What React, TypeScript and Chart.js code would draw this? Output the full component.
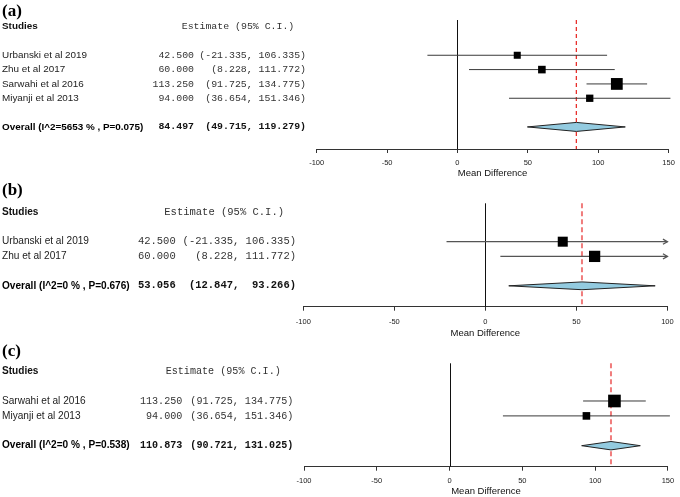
import React, { useEffect, useRef } from "react";
import { Chart, registerables } from "chart.js";

Chart.register(...registerables);

// ---------- Panel (a) data ----------
const studiesA = ["Urbanski et al 2019", "Zhu et al 2017", "Sarwahi et al 2016", "Miyanji et al 2013"];
const estA = [42.5, 60.0, 113.25, 94.0];
const lowA = [-21.335, 8.228, 91.725, 36.654];
const highA = [106.335, 111.772, 134.775, 151.346];
const overallLabelA = "Overall (I^2=5653 % , P=0.075)";
const overallEstA = 84.497;
const overallLowA = 49.715;
const overallHighA = 119.279;
const ticksA = [-100, -50, 0, 50, 100, 150];

// ---------- Panel (b) data ----------
const studiesB = ["Urbanski et al 2019", "Zhu et al 2017"];
const estB = [42.5, 60.0];
const lowB = [-21.335, 8.228];
const highB = [106.335, 111.772];
const overallLabelB = "Overall (I^2=0 % , P=0.676)";
const overallEstB = 53.056;
const overallLowB = 12.847;
const overallHighB = 93.266;
const ticksB = [-100, -50, 0, 50, 100];

// ---------- Panel (c) data ----------
const studiesC = ["Sarwahi et al 2016", "Miyanji et al 2013"];
const estC = [113.25, 94.0];
const lowC = [91.725, 36.654];
const highC = [134.775, 151.346];
const overallLabelC = "Overall (I^2=0 % , P=0.538)";
const overallEstC = 110.873;
const overallLowC = 90.721;
const overallHighC = 131.025;
const ticksC = [-100, -50, 0, 50, 100, 150];

const headerStudies = "Studies";
const headerEstimate = "Estimate (95% C.I.)";
const axisTitle = "Mean Difference";

const SANS = '"Liberation Sans", Arial, Helvetica, sans-serif';
const MONO = '"Liberation Mono", "Courier New", monospace';
const SERIF = '"Liberation Serif", "Times New Roman", serif';

type Layout = {
  top: number;
  height: number;
  label: string;
  padLeft: number;
  padRight: number;
  padTop: number;
  axisH: number;
  tickPad: number;
  yMin: number;
  yMax: number;
  monoSize: number;
  sansSize: number;
  estRight: number;
  ciRight: number;
  headerX: number;
  labelY: number;
  arrows: boolean;
  ciColor: string;
  ciWidth: number;
  dashColor: string;
  dashWidth: number;
  dash: number[];
  diamondHalf: number;
};

type PanelProps = {
  names: string[];
  est: number[];
  low: number[];
  high: number[];
  overallLabel: string;
  overallEst: number;
  overallLow: number;
  overallHigh: number;
  ticks: number[];
  layout: Layout;
};

const layoutA: Layout = {
  top: 0, height: 179, label: "(a)", padLeft: 316.7, padRight: 7.5, padTop: 20, axisH: 30, tickPad: 5.2,
  yMin: -2.46, yMax: 6.54, monoSize: 9.9, sansSize: 9.9, estRight: 194, ciRight: 306, headerX: 181.7, labelY: 11.5,
  arrows: false, ciColor: "#3a3a3a", ciWidth: 1, dashColor: "#e8302c", dashWidth: 1.3, dash: [4, 3], diamondHalf: 4.5,
};
const layoutB: Layout = {
  top: 180, height: 159, label: "(b)", padLeft: 303.3, padRight: 8.3, padTop: 23.3, axisH: 32.3, tickPad: 6.3,
  yMin: -2.61, yMax: 4.42, monoSize: 10.5, sansSize: 10.1, estRight: 175.7, ciRight: 296, headerX: 164.3, labelY: 11,
  arrows: true, ciColor: "#555555", ciWidth: 1.3, dashColor: "#f07c7c", dashWidth: 2, dash: [5, 3], diamondHalf: 3.9,
};
const layoutC: Layout = {
  top: 340, height: 157, label: "(c)", padLeft: 304, padRight: 6, padTop: 23.3, axisH: 30.3, tickPad: 5.8,
  yMin: -2.53, yMax: 4.41, monoSize: 10.1, sansSize: 10.1, estRight: 182.3, ciRight: 293.3, headerX: 165.7, labelY: 12,
  arrows: false, ciColor: "#3a3a3a", ciWidth: 1, dashColor: "#f07c7c", dashWidth: 2, dash: [5, 3], diamondHalf: 4.2,
};

function ForestPanel(props: PanelProps) {
  const ref = useRef<HTMLCanvasElement>(null);

  useEffect(() => {
    const p = props;
    const L = p.layout;
    const n = p.names.length;
    const overallRow = n + 1;

    // inverse-variance weights -> box size
    const se = p.low.map((lo, i) => (p.high[i] - lo) / 3.92);
    const w = se.map((s) => 1 / (s * s));
    const sw = w.reduce((a, b) => a + b, 0);
    const radii = w.map((v) => (4.6 + 0.86 * Math.sqrt((v / sw) * 100)) / Math.SQRT2);

    const ciDatasets = p.est.map((_, i) => ({
      type: "scatter" as const,
      showLine: true,
      data: [
        { x: p.low[i], y: i },
        { x: p.high[i], y: i },
      ],
      borderColor: L.ciColor,
      backgroundColor: L.ciColor,
      borderWidth: L.ciWidth,
      pointRadius: 0,
      order: 1,
      ...(L.arrows ? {} : { clip: false as const }),
    }));

    const boxDataset = {
      type: "scatter" as const,
      data: p.est.map((e, i) => ({ x: e, y: i })),
      pointStyle: "rect" as const,
      pointRadius: radii,
      backgroundColor: "#000000",
      borderColor: "#000000",
      borderWidth: 0,
      order: 0,
      clip: false as const,
    };

    const plugin = {
      id: "forest" + L.label,
      beforeDatasetsDraw(chart: any) {
        const { ctx, chartArea } = chart;
        const xs = chart.scales.x;
        ctx.save();
        const x0 = Math.round(xs.getPixelForValue(0)) + 0.5;
        ctx.strokeStyle = "#111111";
        ctx.lineWidth = 1;
        ctx.beginPath();
        ctx.moveTo(x0, chartArea.top);
        ctx.lineTo(x0, chartArea.bottom);
        ctx.stroke();
        const xd = xs.getPixelForValue(p.overallEst);
        ctx.strokeStyle = L.dashColor;
        ctx.lineWidth = L.dashWidth;
        ctx.setLineDash(L.dash);
        ctx.beginPath();
        ctx.moveTo(xd, chartArea.top);
        ctx.lineTo(xd, chartArea.bottom);
        ctx.stroke();
        ctx.restore();
      },
      afterDatasetsDraw(chart: any) {
        const { ctx } = chart;
        const xs = chart.scales.x;
        const ys = chart.scales.y;
        ctx.save();
        // overall diamond
        const yo = ys.getPixelForValue(overallRow);
        const pl = xs.getPixelForValue(p.overallLow);
        const pe = xs.getPixelForValue(p.overallEst);
        const ph = xs.getPixelForValue(p.overallHigh);
        ctx.beginPath();
        ctx.moveTo(pl, yo);
        ctx.lineTo(pe, yo - L.diamondHalf);
        ctx.lineTo(ph, yo);
        ctx.lineTo(pe, yo + L.diamondHalf);
        ctx.closePath();
        ctx.fillStyle = "#93cbe0";
        ctx.fill();
        ctx.strokeStyle = "#222222";
        ctx.lineWidth = 1;
        ctx.stroke();
        // arrows for truncated CIs
        if (L.arrows) {
          ctx.strokeStyle = L.ciColor;
          ctx.lineWidth = L.ciWidth;
          p.est.forEach((_, i) => {
            const yy = ys.getPixelForValue(i);
            if (p.high[i] > xs.max) {
              const xe = xs.getPixelForValue(xs.max);
              ctx.beginPath();
              ctx.moveTo(xe - 4.5, yy - 2.6);
              ctx.lineTo(xe, yy);
              ctx.lineTo(xe - 4.5, yy + 2.6);
              ctx.stroke();
            }
            if (p.low[i] < xs.min) {
              const xb = xs.getPixelForValue(xs.min);
              ctx.beginPath();
              ctx.moveTo(xb + 4.5, yy - 2.6);
              ctx.lineTo(xb, yy);
              ctx.lineTo(xb + 4.5, yy + 2.6);
              ctx.stroke();
            }
          });
        }
        ctx.restore();
      },
      afterDraw(chart: any) {
        const { ctx } = chart;
        const ys = chart.scales.y;
        ctx.save();
        ctx.textBaseline = "middle";
        // panel label
        ctx.fillStyle = "#000000";
        ctx.textAlign = "left";
        ctx.font = `bold 17px ${SERIF}`;
        ctx.fillText(L.label, 2, L.labelY);
        // header
        const yh = ys.getPixelForValue(-2);
        ctx.font = `bold ${L.sansSize}px ${SANS}`;
        ctx.fillStyle = "#111111";
        ctx.fillText(headerStudies, 2, yh);
        ctx.font = `${L.monoSize}px ${MONO}`;
        ctx.fillStyle = "#333333";
        ctx.fillText(headerEstimate, L.headerX, yh);

        const cw = (() => {
          ctx.font = `${L.monoSize}px ${MONO}`;
          return ctx.measureText("0").width;
        })();

        const drawRow = (row: number, name: string, e: number, lo: number, hi: number, bold: boolean) => {
          const yy = ys.getPixelForValue(row);
          ctx.textAlign = "left";
          ctx.font = `${bold ? "bold " : ""}${L.sansSize}px ${SANS}`;
          ctx.fillStyle = bold ? "#000000" : "#222222";
          ctx.fillText(name, 2, yy);
          ctx.font = `${bold ? "bold " : ""}${L.monoSize}px ${MONO}`;
          ctx.fillStyle = bold ? "#111111" : "#333333";
          ctx.textAlign = "right";
          ctx.fillText(e.toFixed(3), L.estRight, yy);
          ctx.fillText(`(${lo.toFixed(3)},`, L.ciRight - 9 * cw, yy);
          ctx.fillText(`${hi.toFixed(3)})`, L.ciRight, yy);
        };

        p.names.forEach((nm, i) => drawRow(i, nm, p.est[i], p.low[i], p.high[i], false));
        drawRow(overallRow, p.overallLabel, p.overallEst, p.overallLow, p.overallHigh, true);
        ctx.restore();
      },
    };

    const chart = new Chart(ref.current as HTMLCanvasElement, {
      type: "scatter",
      data: { datasets: [boxDataset, ...ciDatasets] as any },
      options: {
        responsive: true,
        maintainAspectRatio: false,
        animation: false,
        events: [],
        layout: { padding: { left: L.padLeft, right: L.padRight, top: L.padTop, bottom: 0 } },
        plugins: { legend: { display: false }, tooltip: { enabled: false }, title: { display: false } },
        scales: {
          x: {
            type: "linear",
            position: "bottom",
            min: p.ticks[0],
            max: p.ticks[p.ticks.length - 1],
            afterBuildTicks: (scale: any) => {
              scale.ticks = p.ticks.map((v) => ({ value: v }));
            },
            afterFit: (scale: any) => {
              scale.height = L.axisH;
            },
            grid: {
              display: true,
              drawOnChartArea: false,
              drawTicks: true,
              tickLength: 4,
              color: "#333333",
              lineWidth: 1,
            },
            border: { display: true, color: "#333333", width: 1 },
            ticks: {
              autoSkip: false,
              maxRotation: 0,
              padding: L.tickPad,
              color: "#222222",
              font: { family: SANS, size: 7.5 },
            },
            title: {
              display: true,
              text: axisTitle,
              color: "#111111",
              font: { family: SANS, size: 9.5 },
              padding: { top: 0, bottom: 0 },
            },
          },
          y: {
            type: "linear",
            display: false,
            min: L.yMin,
            max: L.yMax,
            reverse: true,
          },
        },
      },
      plugins: [plugin],
    } as any);

    return () => chart.destroy();
  }, []);

  const L = props.layout;
  return (
    <div style={{ position: "absolute", left: 0, top: L.top, width: 680, height: L.height }}>
      <canvas ref={ref} />
    </div>
  );
}

export default function App() {
  return (
    <div
      style={{
        position: "fixed",
        left: 0,
        top: 0,
        width: 680,
        height: 497,
        overflow: "hidden",
        background: "#ffffff",
      }}
    >
      <ForestPanel
        names={studiesA}
        est={estA}
        low={lowA}
        high={highA}
        overallLabel={overallLabelA}
        overallEst={overallEstA}
        overallLow={overallLowA}
        overallHigh={overallHighA}
        ticks={ticksA}
        layout={layoutA}
      />
      <ForestPanel
        names={studiesB}
        est={estB}
        low={lowB}
        high={highB}
        overallLabel={overallLabelB}
        overallEst={overallEstB}
        overallLow={overallLowB}
        overallHigh={overallHighB}
        ticks={ticksB}
        layout={layoutB}
      />
      <ForestPanel
        names={studiesC}
        est={estC}
        low={lowC}
        high={highC}
        overallLabel={overallLabelC}
        overallEst={overallEstC}
        overallLow={overallLowC}
        overallHigh={overallHighC}
        ticks={ticksC}
        layout={layoutC}
      />
    </div>
  );
}
